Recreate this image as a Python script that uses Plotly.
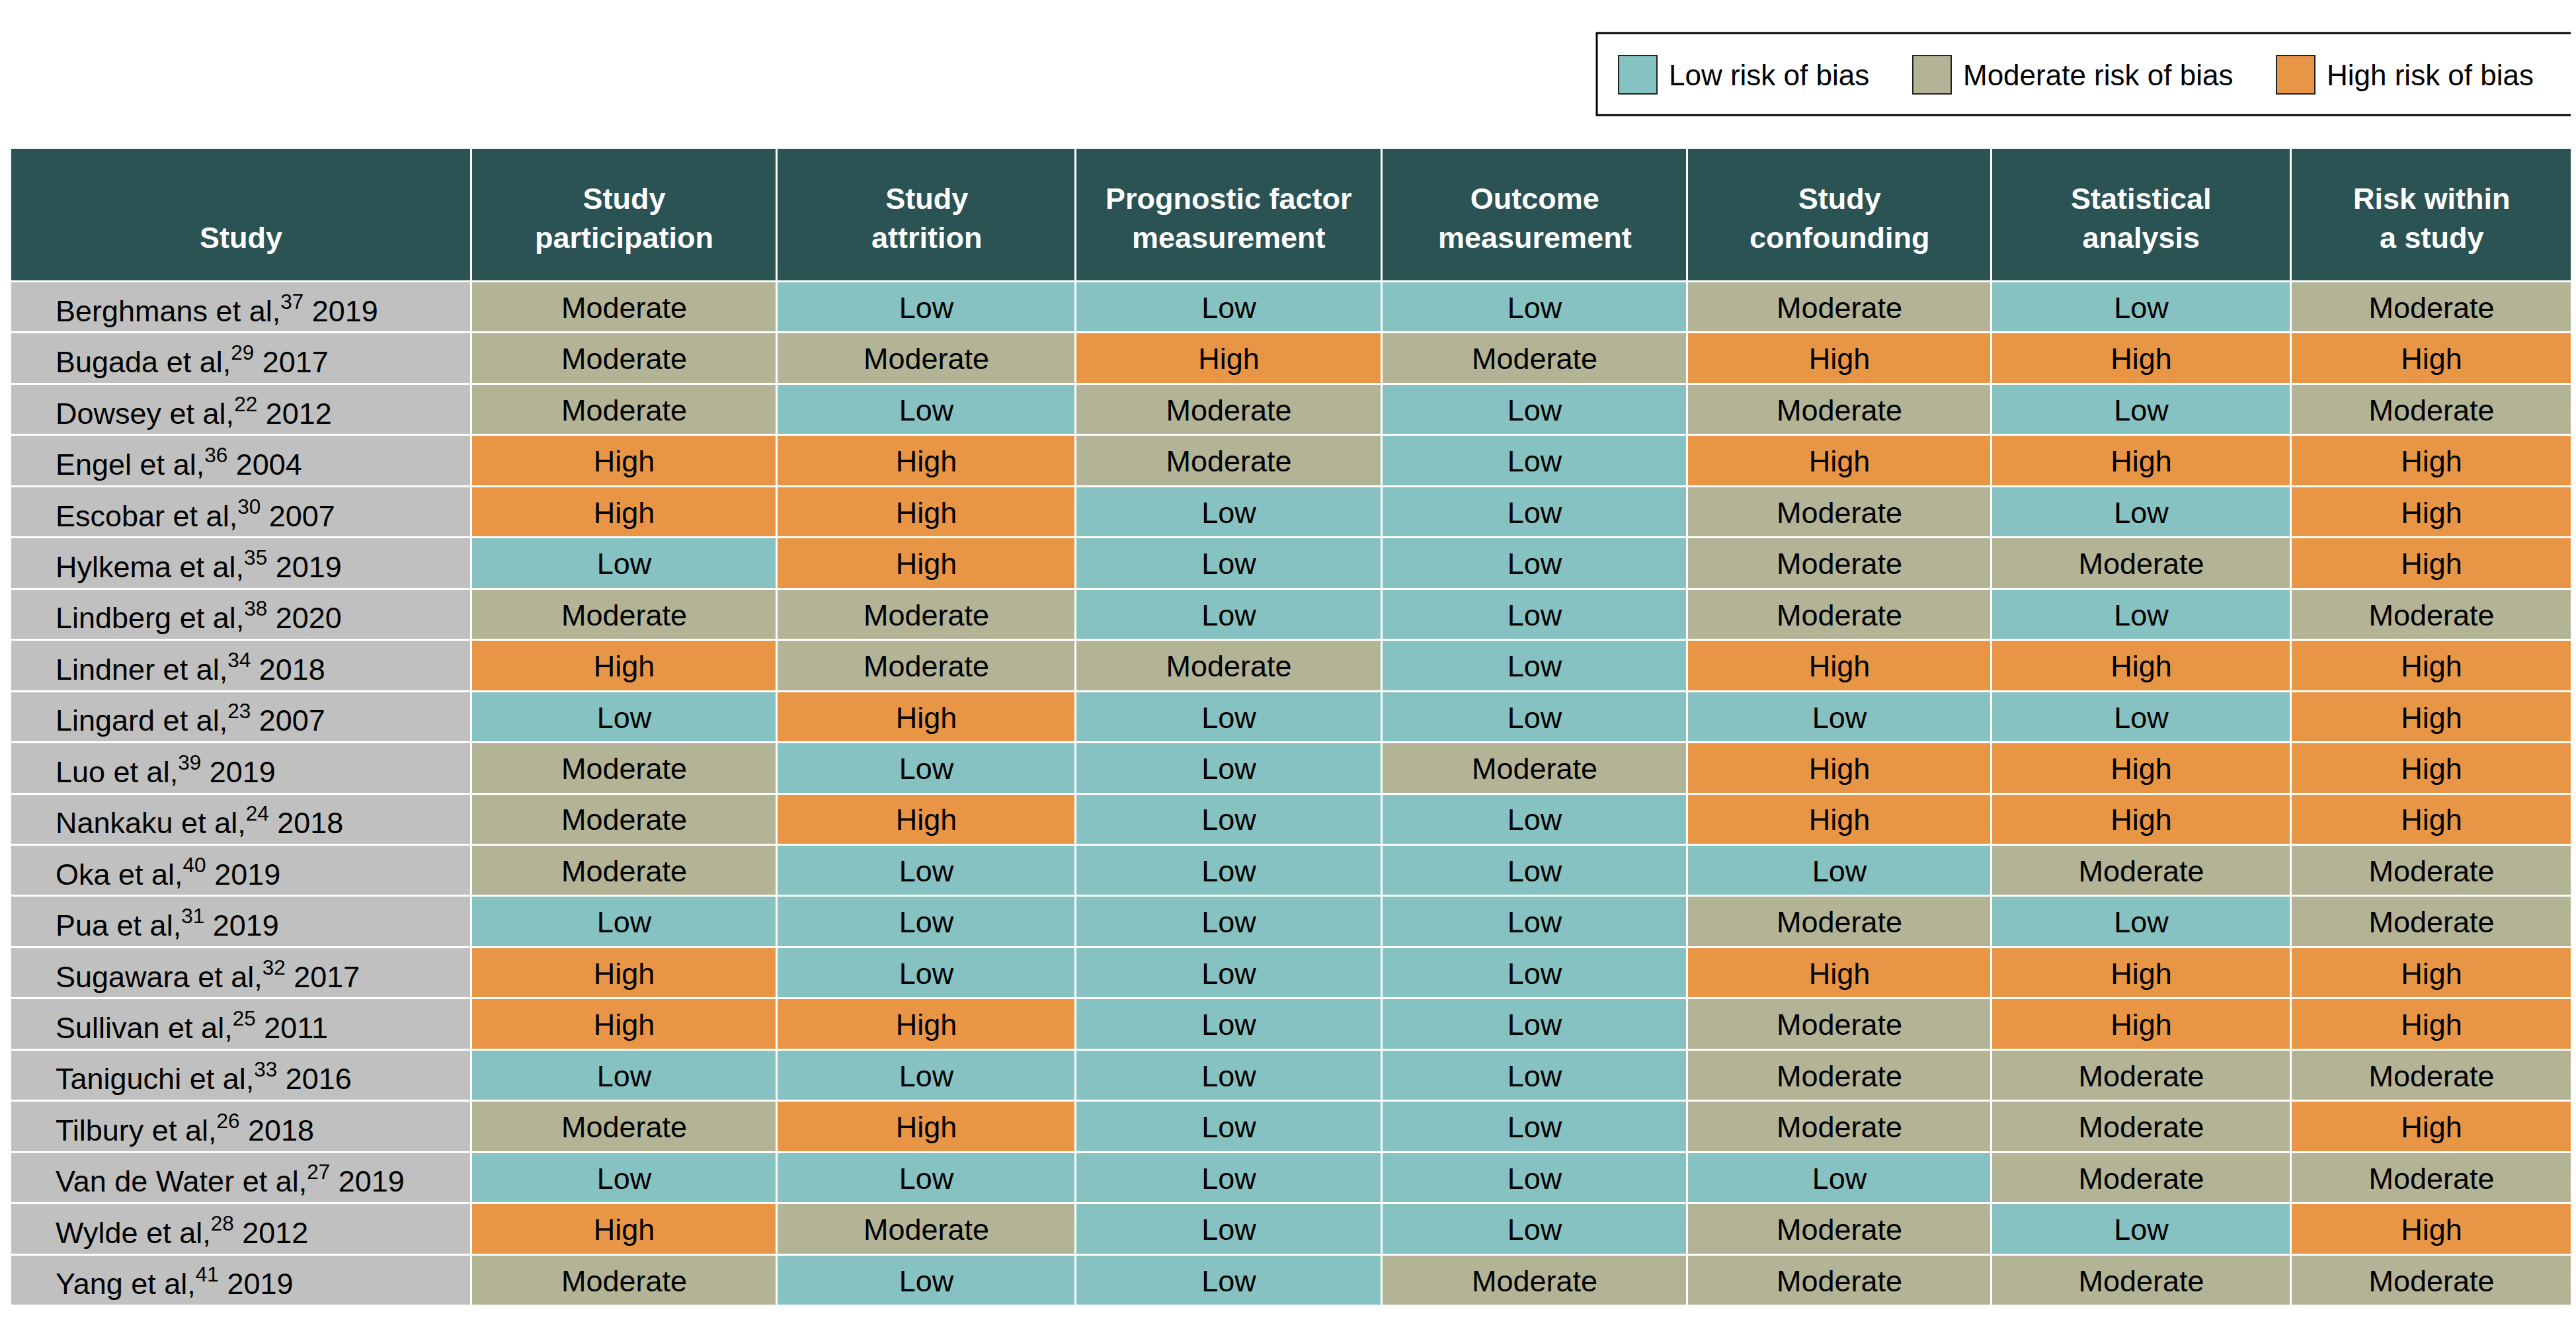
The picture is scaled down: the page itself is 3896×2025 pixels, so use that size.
import plotly.graph_objects as go

# ---------------- data ----------------
AUTHORS = ["Berghmans", "Bugada", "Dowsey", "Engel", "Escobar", "Hylkema", "Lindberg",
           "Lindner", "Lingard", "Luo", "Nankaku", "Oka", "Pua", "Sugawara", "Sullivan",
           "Taniguchi", "Tilbury", "Van de Water", "Wylde", "Yang"]
REFS = ["37", "29", "22", "36", "30", "35", "38", "34", "23", "39", "24", "40", "31", "32",
        "25", "33", "26", "27", "28", "41"]
YEARS = ["2019", "2017", "2012", "2004", "2007", "2019", "2020", "2018", "2007", "2019",
         "2018", "2019", "2019", "2017", "2011", "2016", "2018", "2019", "2012", "2019"]

HEADERS = ["Study", "Study<br>participation", "Study<br>attrition",
           "Prognostic factor<br>measurement", "Outcome<br>measurement",
           "Study<br>confounding", "Statistical<br>analysis", "Risk within<br>a study"]

study_participation = ["Moderate", "Moderate", "Moderate", "High", "High", "Low", "Moderate",
                       "High", "Low", "Moderate", "Moderate", "Moderate", "Low", "High", "High",
                       "Low", "Moderate", "Low", "High", "Moderate"]
study_attrition = ["Low", "Moderate", "Low", "High", "High", "High", "Moderate", "Moderate",
                   "High", "Low", "High", "Low", "Low", "Low", "High", "Low", "High", "Low",
                   "Moderate", "Low"]
prognostic_factor = ["Low", "High", "Moderate", "Moderate", "Low", "Low", "Low", "Moderate",
                     "Low", "Low", "Low", "Low", "Low", "Low", "Low", "Low", "Low", "Low",
                     "Low", "Low"]
outcome_measurement = ["Low", "Moderate", "Low", "Low", "Low", "Low", "Low", "Low", "Low",
                       "Moderate", "Low", "Low", "Low", "Low", "Low", "Low", "Low", "Low",
                       "Low", "Moderate"]
study_confounding = ["Moderate", "High", "Moderate", "High", "Moderate", "Moderate", "Moderate",
                     "High", "Low", "High", "High", "Low", "Moderate", "High", "Moderate",
                     "Moderate", "Moderate", "Low", "Moderate", "Moderate"]
statistical_analysis = ["Low", "High", "Low", "High", "Low", "Moderate", "Low", "High", "Low",
                        "High", "High", "Moderate", "Low", "High", "High", "Moderate",
                        "Moderate", "Moderate", "Low", "Moderate"]
risk_within_study = ["Moderate", "High", "Moderate", "High", "High", "High", "Moderate", "High",
                     "High", "High", "High", "Moderate", "Moderate", "High", "High", "Moderate",
                     "High", "Moderate", "High", "Moderate"]

DOMAINS = [study_participation, study_attrition, prognostic_factor, outcome_measurement,
           study_confounding, statistical_analysis, risk_within_study]

LEGEND_LABELS = ["Low risk of bias", "Moderate risk of bias", "High risk of bias"]

# ---------------- style / layout ----------------
W, H = 3896, 2025
PAGE_MARGIN = 8  # default body margin of the html page
FONT = "Liberation Sans, Arial, sans-serif"
FS = 45
C_LABEL = "#c0c0c0"
C_LOW = "#86c2c1"
C_MOD = "#b2b495"
C_HIGH = "#e89645"
C_HEAD = "#2b5354"
LEVEL = {"Low": 1, "Moderate": 2, "High": 3}

TABLE_X0 = 16
COL_WIDTHS = [697, 462, 452, 463, 462, 460, 453, 425]
HEADER_TOP = 224
HEADER_H = 202
ROW_H = 77.45
n_rows = len(AUTHORS)

x_edges = [TABLE_X0]
for w in COL_WIDTHS:
    x_edges.append(x_edges[-1] + w)
y_edges = [HEADER_TOP, HEADER_TOP + HEADER_H]
for i in range(n_rows):
    y_edges.append(y_edges[-1] + ROW_H)

x_centers = [(x_edges[i] + x_edges[i + 1]) / 2 for i in range(len(COL_WIDTHS))]
y_centers = [(y_edges[i] + y_edges[i + 1]) / 2 for i in range(len(y_edges) - 1)]

# z matrix: 0 label gray, 1 low, 2 moderate, 3 high, 4 header
z = [[4] * len(COL_WIDTHS)]
for r in range(n_rows):
    z.append([0] + [LEVEL[d[r]] for d in DOMAINS])

colorscale = [[0.0, C_LABEL], [0.125, C_LABEL], [0.125, C_LOW], [0.375, C_LOW],
              [0.375, C_MOD], [0.625, C_MOD], [0.625, C_HIGH], [0.875, C_HIGH],
              [0.875, C_HEAD], [1.0, C_HEAD]]

fig = go.Figure()
fig.add_trace(go.Heatmap(
    z=z, x=x_edges, y=y_edges, zmin=0, zmax=4, colorscale=colorscale,
    showscale=False, xgap=3, ygap=3, hoverinfo="skip"))

# cell texts
TEXT_DY = 5
tx, ty, tt = [], [], []
for c, d in enumerate(DOMAINS):
    for r in range(n_rows):
        tx.append(x_centers[c + 1])
        ty.append(y_centers[r + 1] + TEXT_DY)
        tt.append(d[r])
fig.add_trace(go.Scatter(
    x=tx, y=ty, text=tt, mode="text", textposition="middle center",
    textfont=dict(family=FONT, size=FS, color="black"), hoverinfo="skip", showlegend=False))

annotations = []
# row labels
for r in range(n_rows):
    annotations.append(dict(
        x=TABLE_X0 + 66, y=y_centers[r + 1] + 2, xref="x", yref="y",
        text=f"{AUTHORS[r]} et al,<sup>{REFS[r]}</sup> {YEARS[r]}",
        showarrow=False, xanchor="left", yanchor="middle",
        font=dict(family=FONT, size=FS, color="black")))
# headers
for c, h in enumerate(HEADERS):
    annotations.append(dict(
        x=x_centers[c], y=y_edges[1] - 39, xref="x", yref="y", text=f"<b>{h}</b>",
        showarrow=False, xanchor="center", yanchor="bottom",
        font=dict(family=FONT, size=FS, color="white")))

# legend (manual)
shapes = []
LEG_X0, LEG_X1, LEG_Y0, LEG_Y1 = 2415, 3891, 50, 174
shapes.append(dict(type="rect", xref="x", yref="y", x0=LEG_X0, x1=LEG_X1, y0=LEG_Y0, y1=LEG_Y1,
                   line=dict(color="black", width=3), fillcolor="white", layer="below"))
SW_X = [2448, 2893, 3443]
SW = 58
for i, (lab, col) in enumerate(zip(LEGEND_LABELS, [C_LOW, C_MOD, C_HIGH])):
    shapes.append(dict(type="rect", xref="x", yref="y", x0=SW_X[i], x1=SW_X[i] + SW,
                       y0=84, y1=84 + SW, line=dict(color="#222222", width=2), fillcolor=col))
    annotations.append(dict(
        x=SW_X[i] + SW + 16, y=113, xref="x", yref="y", text=lab, showarrow=False,
        xanchor="left", yanchor="middle", font=dict(family=FONT, size=44, color="black")))

fig.update_layout(
    width=W - PAGE_MARGIN, height=H - PAGE_MARGIN, margin=dict(l=0, r=0, t=0, b=0),
    paper_bgcolor="white", plot_bgcolor="white",
    xaxis=dict(range=[PAGE_MARGIN, W], visible=False, fixedrange=True),
    yaxis=dict(range=[H, PAGE_MARGIN], visible=False, fixedrange=True),
    annotations=annotations, shapes=shapes, showlegend=False)

fig.write_html("out.html")
